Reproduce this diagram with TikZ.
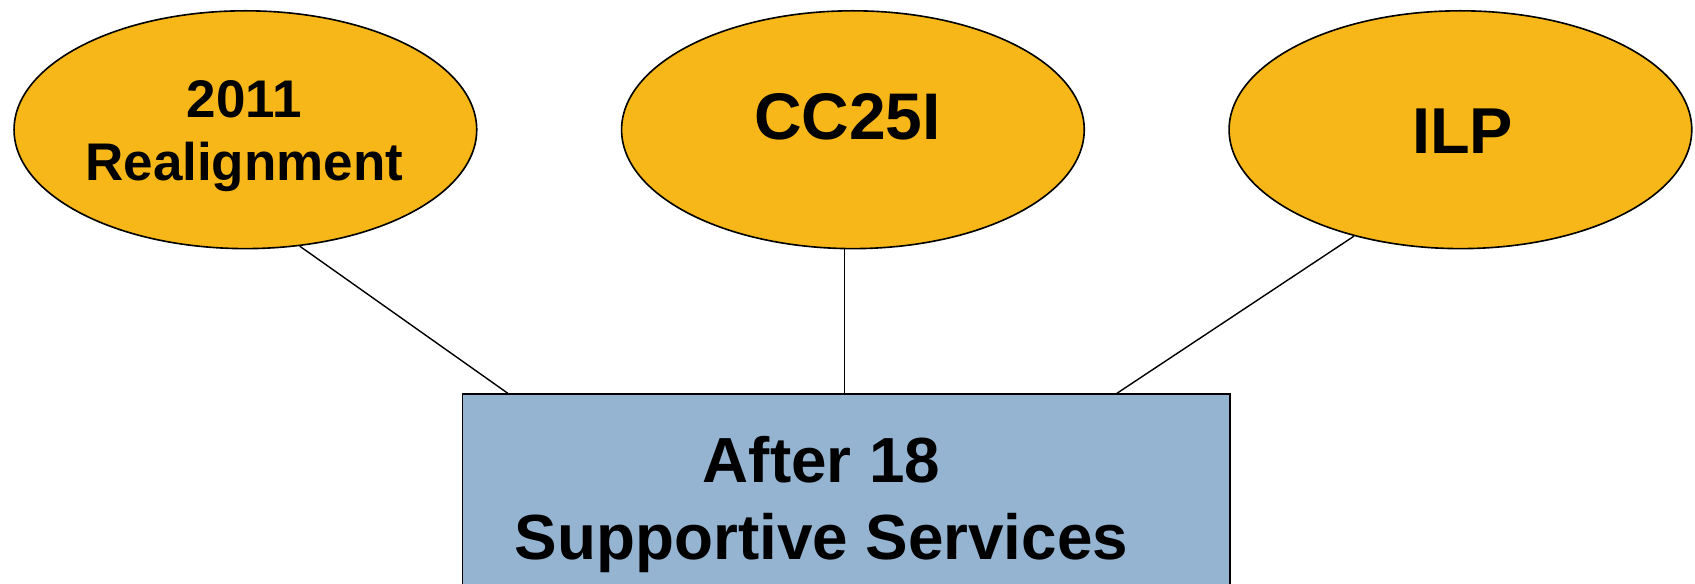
\documentclass[tikz,border=0pt]{standalone}
\usepackage{fontspec}
\setmainfont{Liberation Sans}
\usetikzlibrary{shapes.geometric}
\definecolor{oval}{HTML}{F7B718}
\definecolor{boxblue}{HTML}{95B4D2}
\tikzset{
  oval/.style={ellipse, draw=black, line width=1.5pt, fill=oval, minimum width=428pt, minimum height=220pt, inner sep=0pt},
  mainbox/.style={rectangle, draw=black, line width=1.7pt, fill=boxblue, minimum width=710pt, minimum height=220pt, inner sep=0pt},
  label/.style={align=center, inner sep=0pt},
  link/.style={draw=black, line width=1.3pt}
}
\begin{document}
\begin{tikzpicture}[x=1pt,y=-1pt]
\clip (0,0) rectangle (1568,540);
\node[oval] (L) at (227,120) {};
\node[oval] (M) at (789,120) {};
\node[oval] (R) at (1351,120) {};
\node[label, font=\bfseries\fontsize{49}{59}\selectfont] (Lt) at (226,126) {2011\\Realignment};
\node[label, font=\bfseries\fontsize{61}{72}\selectfont] (Mt) at (784,108) {CC25I};
\node[label, font=\bfseries\fontsize{60}{72}\selectfont] (Rt) at (1353,121.5) {ILP};
\node[mainbox, anchor=north west] (B) at (427,364) {};
\node[label, font=\bfseries\fontsize{59}{71}\selectfont] (T) at (760,467) {After 18\\Supportive Services};
\coordinate (bl) at ([xshift=43pt]B.north west);
\coordinate (bm) at ([xshift=354pt]B.north west);
\coordinate (br) at ([xshift=606pt]B.north west);
\draw[link] (L.-65) -- (bl);
\draw[link] (M.south -| bm) -- (bm);
\draw[link] (R.-135) -- (br);
\end{tikzpicture}
\end{document}
